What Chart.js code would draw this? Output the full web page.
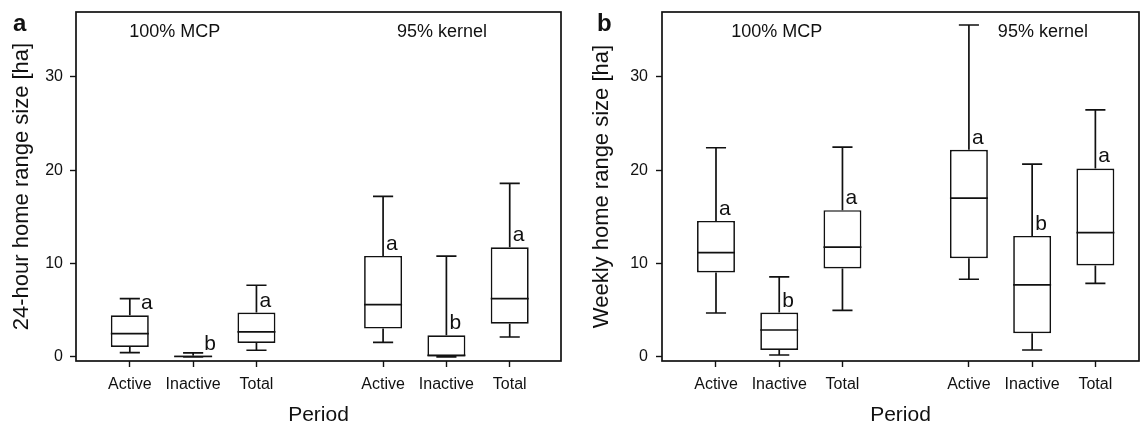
<!DOCTYPE html>
<html>
<head>
<meta charset="utf-8">
<script src="https://cdn.jsdelivr.net/npm/chart.js@4.4.0/dist/chart.umd.min.js"></script>
<style>
  body { margin: 0; background: #fff; }
  #wrap { position: relative; width: 1140px; height: 429px; }
  .panel { position: absolute; top: 0; width: 570px; height: 429px; }
</style>
</head>
<body>
<div id="wrap">
  <div class="panel" style="left:0"><canvas id="chartA" width="570" height="429"></canvas></div>
  <div class="panel" style="left:570px"><canvas id="chartB" width="570" height="429"></canvas></div>
</div>
<script>
const periods = ['Active', 'Inactive', 'Total'];
const methods = ['100% MCP', '95% kernel'];
const yTicks = [0, 10, 20, 30];

// (a) 24-hour home range size [ha], order: MCP Active/Inactive/Total, kernel Active/Inactive/Total
const dayMin = [0.47, 0.0, 0.72, 1.57, 0.0, 2.14];
const dayQ1 = [1.07, 0.0, 1.5, 3.04, 0.0, 3.57];
const dayMed = [2.5, 0.05, 2.68, 5.6, 0.18, 6.25];
const dayQ3 = [4.47, 0.15, 4.75, 10.82, 2.32, 11.75];
const dayMax = [6.25, 0.43, 7.68, 17.2, 10.79, 18.58];
const dayLetters = ['a', 'b', 'a', 'a', 'b', 'a'];

// (b) weekly home range size [ha]
const weekMin = [4.71, 0.21, 5.0, 8.32, 0.75, 7.89];
const weekQ1 = [9.04, 0.75, 9.47, 10.57, 2.54, 9.79];
const weekMed = [11.18, 2.89, 11.75, 17.0, 7.71, 13.32];
const weekQ3 = [14.57, 4.75, 15.72, 22.18, 12.96, 20.18];
const weekMax = [22.4, 8.57, 22.47, 35.54, 20.65, 26.46];
const weekLetters = ['a', 'b', 'a', 'a', 'b', 'a'];

const ink = '#111';
const fontFamily = "'Liberation Sans', Arial, Helvetica, sans-serif";
Chart.defaults.font.family = fontFamily;
Chart.defaults.color = ink;

// one gap slot between the two estimators
const xPos = methods.flatMap((m, g) => periods.map((p, i) => g * 4 + i + 1));

function boxPlugin(stats, cfg) {
  return {
    id: 'boxplot',
    afterDatasetsDraw(chart) {
      const { ctx, chartArea: area, scales: { x, y } } = chart;
      const bars = chart.getDatasetMeta(0).data;
      ctx.save();
      ctx.strokeStyle = ink;
      ctx.fillStyle = ink;
      ctx.lineWidth = 1.7;

      stats.med.forEach((m, i) => {
        const cx = x.getPixelForValue(xPos[i]);
        const half = bars[i].width / 2;
        const cap = half * 0.53;
        const yMin = y.getPixelForValue(stats.min[i]);
        const yQ1 = y.getPixelForValue(stats.q1[i]);
        const yMed = y.getPixelForValue(m);
        const yQ3 = y.getPixelForValue(stats.q3[i]);
        const yMax = y.getPixelForValue(stats.max[i]);

        ctx.beginPath();
        ctx.moveTo(cx, yQ3); ctx.lineTo(cx, yMax);
        ctx.moveTo(cx - cap, yMax); ctx.lineTo(cx + cap, yMax);
        ctx.moveTo(cx, yQ1); ctx.lineTo(cx, yMin);
        ctx.moveTo(cx - cap, yMin); ctx.lineTo(cx + cap, yMin);
        ctx.moveTo(cx - half, yMed); ctx.lineTo(cx + half, yMed);
        ctx.stroke();

        // significance letter beside the upper whisker
        const base = yQ3 - 6;
        let dx = 3;
        if (yMax >= base - 17 && yMax <= base + 6) dx = cap + 1;
        ctx.font = `21px ${fontFamily}`;
        ctx.textAlign = 'left';
        ctx.textBaseline = 'alphabetic';
        ctx.fillText(stats.letters[i], cx + dx, base);
      });

      ctx.strokeRect(area.left, area.top, area.width, area.height);

      ctx.font = `18px ${fontFamily}`;
      ctx.textAlign = 'center';
      methods.forEach((m, g) => {
        ctx.fillText(m, x.getPixelForValue(cfg.groupAt[g]), 36.5);
      });

      ctx.font = `bold 24px ${fontFamily}`;
      ctx.textAlign = 'left';
      ctx.fillText(cfg.panel, cfg.panelX, 31);
      ctx.restore();
    }
  };
}

function makeChart(id, stats, cfg) {
  const ctx = document.getElementById(id).getContext('2d');
  return new Chart(ctx, {
    type: 'bar',
    data: {
      datasets: [{
        data: xPos.map((v, i) => ({ x: v, y: [stats.q1[i], stats.q3[i]] })),
        backgroundColor: '#fff',
        borderColor: ink,
        borderWidth: 1.7,
        borderSkipped: false,
        barPercentage: 0.6,
        categoryPercentage: 1
      }]
    },
    options: {
      responsive: false,
      animation: false,
      layout: { padding: { top: 12, right: cfg.padRight, left: 0, bottom: 0 } },
      plugins: { legend: { display: false }, tooltip: { enabled: false } },
      scales: {
        x: {
          type: 'linear',
          offset: false,
          min: cfg.xMin,
          max: cfg.xMax,
          afterBuildTicks: s => { s.ticks = xPos.map(v => ({ value: v })); },
          afterFit: s => { s.height = 68; s.paddingLeft = 0; s.paddingRight = 0; },
          ticks: {
            callback: v => periods[(v - 1) % 4],
            font: { size: 16 },
            color: ink,
            padding: 8,
            maxRotation: 0,
            autoSkip: false
          },
          grid: { offset: false, drawOnChartArea: false, tickLength: 6, tickColor: ink, tickWidth: 1.4 },
          border: { display: false },
          title: { display: true, text: 'Period', font: { size: 21 }, color: ink, padding: { top: 0, bottom: 1 } }
        },
        y: {
          min: -0.43,
          max: 36.93,
          afterBuildTicks: s => { s.ticks = yTicks.map(v => ({ value: v })); },
          afterFit: s => { s.width = cfg.yWidth; s.paddingTop = 0; s.paddingBottom = 0; },
          ticks: { font: { size: 16 }, color: ink, padding: cfg.tickPad },
          grid: { drawOnChartArea: false, tickLength: 6, tickColor: ink, tickWidth: 1.4 },
          border: { display: false },
          title: { display: true, text: cfg.yTitle, font: { size: 22 }, color: ink, padding: { top: cfg.titlePad, bottom: 0 } }
        }
      }
    },
    plugins: [boxPlugin(stats, cfg)]
  });
}

makeChart('chartA',
  { min: dayMin, q1: dayQ1, med: dayMed, q3: dayQ3, max: dayMax, letters: dayLetters },
  { panel: 'a', panelX: 13, groupAt: [1.71, 5.93], xMin: 0.15, xMax: 7.81, padRight: 9,
    yWidth: 76, tickPad: 7, titlePad: 9, yTitle: '24-hour home range size [ha]' });

makeChart('chartB',
  { min: weekMin, q1: weekQ1, med: weekMed, q3: weekQ3, max: weekMax, letters: weekLetters },
  { panel: 'b', panelX: 27, groupAt: [1.96, 6.17], xMin: 0.146, xMax: 7.69, padRight: 1,
    yWidth: 92, tickPad: 8, titlePad: 19, yTitle: 'Weekly home range size [ha]' });
</script>
</body>
</html>
